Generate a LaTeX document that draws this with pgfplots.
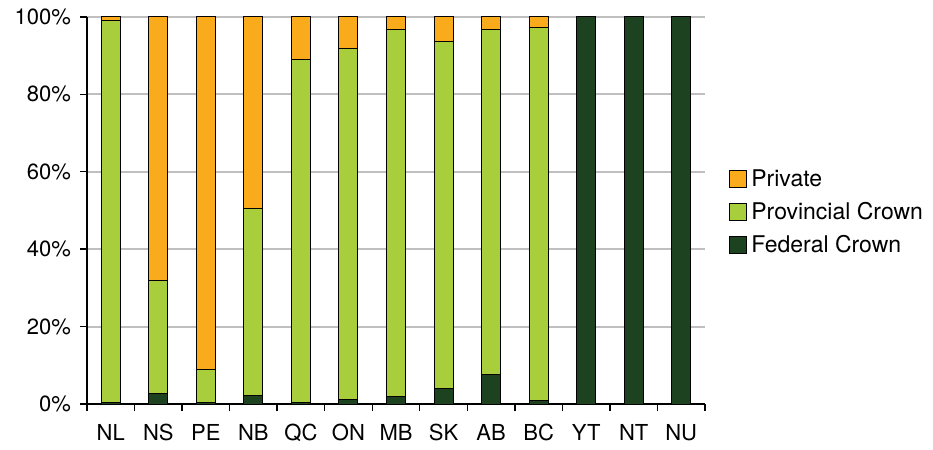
\documentclass[border=0pt]{standalone}
\usepackage{pgfplots}
\pgfplotsset{compat=1.18}
\usepackage{fontspec}
\setmainfont{TeX Gyre Heros}
\definecolor{priv}{HTML}{F9AB1B}
\definecolor{prov}{HTML}{A8CE3B}
\definecolor{fed}{HTML}{1D4220}
\definecolor{gridgray}{HTML}{BFBFBF}
\begin{document}
\begin{tikzpicture}
\path[use as bounding box] (0,0) rectangle (466.5bp,225bp);
\begin{axis}[
  at={(43.5bp,23bp)}, anchor=south west,
  scale only axis, width=309bp, height=193.5bp,
  ybar stacked, bar width=9.5bp,
  xmin=-0.5, xmax=12.5, ymin=0, ymax=100,
  axis x line*=bottom, axis y line*=left,
  axis line style={-, black, line width=0.7bp},
  xtick={0,...,12},
  xticklabels={NL,NS,PE,NB,QC,ON,MB,SK,AB,BC,YT,NT,NU},
  major x tick style={draw=none},
  minor xtick={-0.5,0.5,...,12.5},
  minor x tick style={black, line width=0.7bp},
  minor tick length=3.5bp,
  ytick={0,20,...,100},
  yticklabels={0\%,20\%,40\%,60\%,80\%,100\%},
  ytick style={black, line width=0.7bp},
  major tick length=3.5bp,
  tick align=outside,
  ymajorgrids, grid style={gridgray, line width=1bp},
  font=\fontsize{11bp}{13bp}\selectfont,
  /pgf/number format/assume math mode=true,
  xticklabel style={yshift=-3bp},
  yticklabel style={xshift=-1bp},
  every axis plot/.append style={draw=black, line width=0.5bp},
  reverse legend,
  legend style={at={(1,0.495)}, anchor=west, xshift=9bp, draw=none,
    font=\fontsize{11.5bp}{13bp}\selectfont, row sep=2.5bp,
    /tikz/every even column/.append style={column sep=2bp}},
  legend cell align=left,
  legend image code/.code={\draw[#1, line width=0.5bp] (0bp,-4.25bp) rectangle (8.5bp,4.25bp);},
]
\addplot[fill=fed] coordinates {(0,0.5) (1,2.8) (2,0.4) (3,2.3) (4,0.3) (5,1.2) (6,1.9) (7,4.0) (8,7.7) (9,1.0) (10,100) (11,100) (12,100)};
\addplot[fill=prov] coordinates {(0,98.5) (1,29.2) (2,8.4) (3,48.1) (4,88.7) (5,90.7) (6,94.9) (7,89.6) (8,89.1) (9,96.3) (10,0) (11,0) (12,0)};
\addplot[fill=priv] coordinates {(0,1.0) (1,68.0) (2,91.2) (3,49.6) (4,11.0) (5,8.1) (6,3.2) (7,6.4) (8,3.2) (9,2.7) (10,0) (11,0) (12,0)};
\legend{Federal Crown,Provincial Crown,Private}
\end{axis}
\end{tikzpicture}
\end{document}
